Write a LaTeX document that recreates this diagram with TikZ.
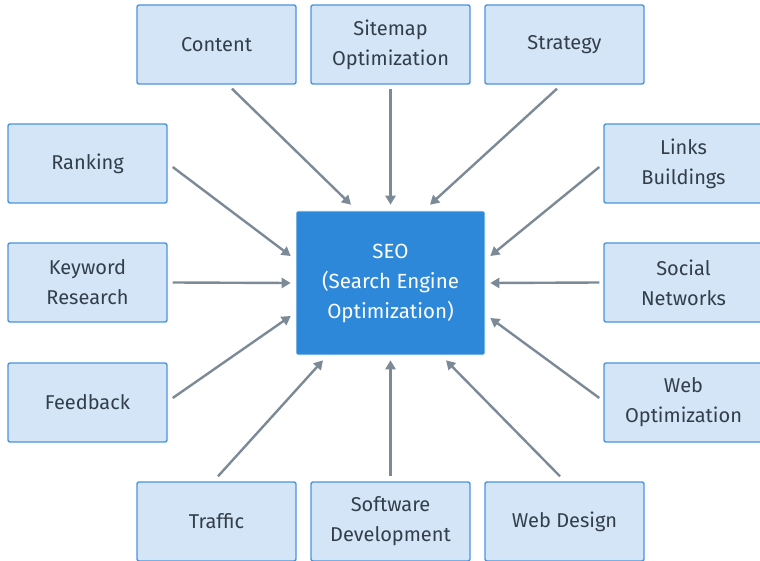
\documentclass[tikz,border=0pt]{standalone}
\usepackage{fontspec}
\setmainfont{Fira Sans}
\usetikzlibrary{arrows.meta, calc}
\definecolor{BoxFill}{HTML}{D3E5F6}
\definecolor{BoxLine}{HTML}{4A94DE}
\definecolor{HubFill}{HTML}{2E88D9}
\definecolor{ArrowGray}{HTML}{7C8A98}
\definecolor{TextDark}{HTML}{333E4A}

\begin{document}
\begin{tikzpicture}[x=1pt, y=-1pt,
  topic/.style={rectangle, rounded corners=2pt, fill=BoxFill, draw=BoxLine, line width=1.4pt,
    minimum width=159pt, minimum height=79pt, align=center, text=TextDark,
    font=\fontsize{20}{30}\selectfont},
  hub/.style={rectangle, rounded corners=2pt, fill=HubFill, draw=white, line width=0.6pt,
    minimum width=189pt, minimum height=144pt, align=center, text=white,
    font=\fontsize{20.5}{30}\selectfont},
  arr/.style={-{Triangle[length=9pt, width=10pt]}, line width=2.4pt, ArrowGray},
]
  \useasboundingbox (0,0) rectangle (760,561);
  \begin{scope}
  \clip (0,0) rectangle (760,561);
  % hub
  \node[hub] (seo) at (390.5,283) {SEO\\(Search Engine\\Optimization)};
  % top row
  \node[topic] (content) at (216.5,44.5) {Content};
  \node[topic] (sitemap) at (390.5,44.5) {Sitemap\\Optimization};
  \node[topic] (strategy) at (564.5,44.5) {Strategy};
  % left column
  \node[topic] (ranking) at (87.5,163.5) {Ranking};
  \node[topic] (keyword) at (87.5,282.5) {Keyword\\Research};
  \node[topic] (feedback) at (87.5,402.5) {Feedback};
  % right column
  \node[topic] (links) at (683.5,163.5) {Links\\Buildings};
  \node[topic] (social) at (683.5,282.5) {Social\\Networks};
  \node[topic] (webopt) at (683.5,402.5) {Web\\Optimization};
  % bottom row
  \node[topic] (traffic) at (216.5,521.5) {Traffic};
  \node[topic] (software) at (390.5,521.5) {Software\\Development};
  \node[topic] (webdesign) at (564.5,521.5) {Web Design};
  \end{scope}
  % arrows from the top
  \foreach \src/\sx/\ex in {content/15.5/-39.5, sitemap/0/0, strategy/-7.5/39.5}
    \draw[arr] ([xshift=\sx pt, yshift=-4pt]\src.south) -- ([xshift=\ex pt, yshift=6pt]seo.north);
  % arrows from the left
  \foreach \src/\sy/\ey in {ranking/-3.5/27, keyword/0/0, feedback/4.5/-33}
    \draw[arr] ([xshift=5pt, yshift=\sy pt]\src.east) -- ([xshift=-5pt, yshift=\ey pt]seo.west);
  % arrows from the right
  \foreach \src/\sy/\ey in {links/-3.5/27, social/0/0, webopt/4.5/-35}
    \draw[arr] ([xshift=-4pt, yshift=\sy pt]\src.west) -- ([xshift=5pt, yshift=\ey pt]seo.east);
  % arrows from the bottom
  \foreach \src/\sx/\ex in {traffic/1.5/-67.5, software/0/0, webdesign/-4.5/55.5}
    \draw[arr] ([xshift=\sx pt, yshift=5pt]\src.north) -- ([xshift=\ex pt, yshift=-5pt]seo.south);
\end{tikzpicture}
\end{document}
